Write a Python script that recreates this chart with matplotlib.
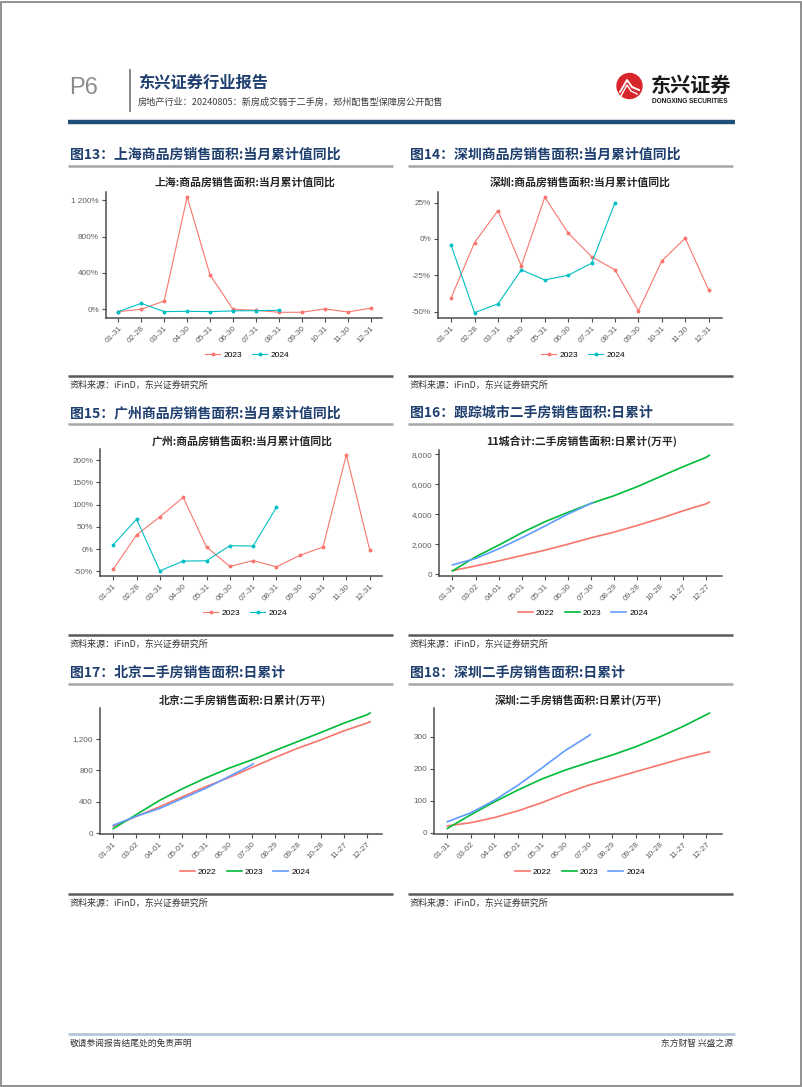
import numpy as np
import matplotlib
matplotlib.use("Agg")
import matplotlib.pyplot as plt
from matplotlib.lines import Line2D
from matplotlib.patches import Rectangle, Circle

plt.rcParams['font.family'] = ['Noto Sans CJK SC', 'DejaVu Sans']

# ================= 数据 =================
months = ['01-31', '02-28', '03-31', '04-30', '05-31', '06-30',
          '07-31', '08-31', '09-30', '10-31', '11-30', '12-31']

# 图13 上海 当月累计值同比 (%)
sh_2023 = [-26, 0, 92, 1237, 378, 0, -11, -33, -33, 4, -29, 11]
sh_2024 = [-26, 66, -26, -22, -26, -18, -15, -11]
# 图14 深圳
sz_2023 = [-40.6, -2.5, 19.5, -18.6, 28.7, 4.1, -12.2, -21.3, -49.5, -15.1, 0.5, -35.1]
sz_2024 = [-4.4, -50.7, -44.7, -21.3, -28.2, -25.0, -16.7, 25.0]
# 图15 广州
gz_2023 = [-45, 31.7, 72.5, 116, 4.5, -39, -26, -40, -14.3, 4.5, 212, -1.5]
gz_2024 = [9.8, 67, -49, -27, -26.4, 7.5, 6.8, 93.6]

# 日累计：以 01-31 为第 0 天
day_ticks = [0, 30, 60, 90, 120, 150, 180, 210, 240, 270, 300, 330]
day_labels = ['01-31', '03-02', '04-01', '05-01', '05-31', '06-30',
              '07-30', '08-29', '09-28', '10-28', '11-27', '12-27']
days_full = [0, 30, 60, 90, 120, 150, 180, 210, 240, 270, 300, 330, 334]
days_2024 = [0, 30, 60, 90, 120, 150, 180, 182]

# 图16 11城合计 (万平)
c11_2022 = [245, 557, 891, 1248, 1604, 2005, 2429, 2808, 3253, 3721, 4234, 4702, 4813]
c11_2023 = [223, 1159, 1939, 2763, 3499, 4123, 4724, 5237, 5838, 6507, 7175, 7799, 7933]
c11_2024 = [624, 1047, 1694, 2429, 3208, 4011, 4724, 4760]
# 图17 北京
bj_2022 = [90, 215, 336, 464, 591, 706, 834, 962, 1081, 1187, 1302, 1400, 1417]
bj_2023 = [60, 238, 417, 566, 702, 826, 932, 1051, 1166, 1281, 1400, 1506, 1528]
bj_2024 = [102, 217, 315, 443, 570, 719, 868, 885]
# 图18 深圳
szd_2022 = [21, 31, 47, 68, 93, 122, 148, 169, 190, 211, 232, 250, 252]
szd_2023 = [13, 56, 96, 133, 167, 195, 219, 242, 268, 298, 331, 368, 373]
szd_2024 = [34, 62, 101, 148, 201, 256, 302, 306]

RED, CYAN = '#F8766D', '#00BFC4'
GREEN, BLUE = '#00BA38', '#619CFF'
NAVY = '#1F3F6E'
TICK_C = '#5E5E5E'

W, H = 802, 1087
fig = plt.figure(figsize=(W / 100, H / 100), dpi=100)


def fx(x):
    return x / W


def fy(y):
    return 1 - y / H


def hline(x0, x1, y, color, lw):
    fig.add_artist(Line2D([fx(x0), fx(x1)], [fy(y), fy(y)], color=color, lw=lw,
                          transform=fig.transFigure, solid_capstyle='butt'))


def make_ax(x0, y0, x1, y1):
    ax = fig.add_axes([fx(x0), fy(y1), (x1 - x0) / W, (y1 - y0) / H])
    for s in ['top', 'right']:
        ax.spines[s].set_visible(False)
    for s in ['left', 'bottom']:
        ax.spines[s].set_color('#4D4D4D')
        ax.spines[s].set_linewidth(1.1)
    ax.tick_params(axis='both', colors='#4D4D4D', length=3, width=0.8,
                   labelsize=5.9, labelcolor=TICK_C, pad=2)
    return ax


def section(x, y, title):
    fig.text(fx(x), fy(y), title, fontsize=10, fontweight='bold', color=NAVY,
             va='center', ha='left')
    hline(x - 2, x + 323, y + 11, '#A6A6A6', 1.8)


def source(x, y):
    hline(x - 2, x + 323, y - 9, '#595959', 1.8)
    fig.text(fx(x), fy(y), '资料来源：iFinD，东兴证券研究所', fontsize=6.5,
             color='#333333', style='italic', va='center', ha='left')


def chart_title(xc, y, t):
    fig.text(fx(xc), fy(y), t, fontsize=7.8, fontweight='bold', color='#262626',
             ha='center', va='center')


def legend(xc, y, handles, labels):
    fig.legend(handles, labels, loc='center', bbox_to_anchor=(fx(xc), fy(y)),
               ncol=len(labels), frameon=False, handlelength=1.8,
               columnspacing=1.2, handletextpad=0.4,
               prop={'family': ['Liberation Sans', 'DejaVu Sans'], 'size': 6})


def set_fonts(ax):
    for lab in ax.get_xticklabels() + ax.get_yticklabels():
        lab.set_family(['Liberation Sans', 'DejaVu Sans'])


def month_chart(rect, xlim, ylim, yticks, ylabels, s23, s24, title_pos, title, leg_pos):
    ax = make_ax(*rect)
    x = np.arange(1, 13)
    ax.plot(x[:len(s23)], s23, color=RED, lw=0.8, marker='o', ms=1.8)
    ax.plot(x[:len(s24)], s24, color=CYAN, lw=0.8, marker='o', ms=1.8)
    ax.set_xlim(*xlim)
    ax.set_ylim(*ylim)
    ax.set_xticks(x)
    ax.set_xticklabels(months, rotation=45, ha='right', rotation_mode='anchor')
    ax.set_yticks(yticks)
    ax.set_yticklabels(ylabels)
    set_fonts(ax)
    chart_title(title_pos[0], title_pos[1], title)
    hs = [Line2D([], [], color=RED, lw=0.8, marker='o', ms=1.8),
          Line2D([], [], color=CYAN, lw=0.8, marker='o', ms=1.8)]
    legend(leg_pos[0], leg_pos[1], hs, ['2023', '2024'])


def day_chart(rect, xlim, ylim, yticks, ylabels, s22, s23, s24, title_pos, title, leg_pos):
    ax = make_ax(*rect)
    ax.plot(days_full, s22, color=RED, lw=1.2)
    ax.plot(days_full, s23, color=GREEN, lw=1.2)
    ax.plot(days_2024, s24, color=BLUE, lw=1.2)
    ax.set_xlim(*xlim)
    ax.set_ylim(*ylim)
    ax.set_xticks(day_ticks)
    ax.set_xticklabels(day_labels, rotation=45, ha='right', rotation_mode='anchor')
    ax.set_yticks(yticks)
    ax.set_yticklabels(ylabels)
    set_fonts(ax)
    chart_title(title_pos[0], title_pos[1], title)
    hs = [Line2D([], [], color=c, lw=1.2) for c in (RED, GREEN, BLUE)]
    legend(leg_pos[0], leg_pos[1], hs, ['2022', '2023', '2024'])


# ================= 页眉 =================
fig.add_artist(Rectangle((0.0015, 0.001), 0.997, 0.997, transform=fig.transFigure,
                         fill=False, edgecolor='#7F7F7F', lw=1.2))
fig.text(fx(69), fy(88), 'P6', fontsize=17, color='#8C8C8C', va='center', ha='left',
         family=['Liberation Sans', 'DejaVu Sans'])
fig.add_artist(Line2D([fx(130), fx(130)], [fy(70), fy(111)], color='#7F7F7F', lw=1.3,
                      transform=fig.transFigure))
fig.text(fx(138), fy(82), '东兴证券行业报告', fontsize=11.7, fontweight='bold',
         color=NAVY, va='center', ha='left')
fig.text(fx(138), fy(102), '房地产行业：20240805：新房成交弱于二手房，郑州配售型保障房公开配售',
         fontsize=6.6, color='#404040', va='center', ha='left')
hline(68, 735, 122, '#1F4E79', 3.2)

# 标志（以英寸为单位，保证圆形）
inch = fig.dpi_scale_trans
fig.add_artist(Circle((629.5 / 100, (H - 86) / 100), 0.125, transform=inch,
                      color='#D7262B'))
fig.add_artist(Line2D([6.20, 6.27, 6.32, 6.39],
                      [(H - 92) / 100, (H - 80) / 100, (H - 87) / 100, (H - 90) / 100],
                      color='white', lw=1.4, transform=inch))
fig.add_artist(Line2D([6.21, 6.27, 6.31, 6.37],
                      [(H - 96) / 100, (H - 85) / 100, (H - 91) / 100, (H - 94) / 100],
                      color='white', lw=1.0, transform=inch))
fig.text(fx(651), fy(85), '东兴证券', fontsize=14.5, fontweight='bold', color='#1A1A1A',
         va='center', ha='left')
fig.text(fx(652), fy(101.5), 'DONGXING SECURITIES', fontsize=4.7, fontweight='bold',
         color='#1A1A1A', va='center', ha='left', family=['Liberation Sans', 'DejaVu Sans'])

# ================= 图表 =================
section(70, 155, '图13：上海商品房销售面积:当月累计值同比')
section(410, 155, '图14：深圳商品房销售面积:当月累计值同比')
source(70, 385)
source(410, 385)
month_chart((106, 192, 382, 318), (0.46, 12.5), (-96, 1291), [0, 400, 800, 1200],
            ['0%', '400%', '800%', '1 200%'], sh_2023, sh_2024,
            (245, 182), '上海:商品房销售面积:当月累计值同比', (247, 355))
month_chart((438, 192, 722, 318), (0.44, 12.57), (-54.4, 32.3), [-50, -25, 0, 25],
            ['-50%', '-25%', '0%', '25%'], sz_2023, sz_2024,
            (580, 182), '深圳:商品房销售面积:当月累计值同比', (583, 355))

section(70, 413, '图15：广州商品房销售面积:当月累计值同比')
section(410, 413, '图16：跟踪城市二手房销售面积:日累计')
source(70, 644)
source(410, 644)
month_chart((100, 449, 382, 576), (0.43, 12.53), (-60.6, 224.8),
            [-50, 0, 50, 100, 150, 200],
            ['-50%', '0%', '50%', '100%', '150%', '200%'], gz_2023, gz_2024,
            (242, 441), '广州:商品房销售面积:当月累计值同比', (245, 613))
day_chart((439, 450, 722, 576), (-17.5, 350.5), (-114, 8287),
          [0, 2000, 4000, 6000, 8000], ['0', '2,000', '4,000', '6,000', '8,000'],
          c11_2022, c11_2023, c11_2024,
          (582, 441), '11城合计:二手房销售面积:日累计(万平)', (583, 613))

section(70, 673, '图17：北京二手房销售面积:日累计')
section(410, 673, '图18：深圳二手房销售面积:日累计')
source(70, 903)
source(410, 903)
day_chart((100, 708, 382, 834), (-17.3, 349.5), (-9, 1592),
          [0, 400, 800, 1200], ['0', '400', '800', '1,200'],
          bj_2022, bj_2023, bj_2024,
          (242, 700), '北京:二手房销售面积:日累计(万平)', (245, 872))
day_chart((434, 708, 722, 834), (-17.1, 350), (-4.4, 389),
          [0, 100, 200, 300], ['0', '100', '200', '300'],
          szd_2022, szd_2023, szd_2024,
          (578, 700), '深圳:二手房销售面积:日累计(万平)', (580, 872))

# ================= 页脚 =================
hline(68, 735, 1034, '#B4C6D6', 2.0)
fig.text(fx(70), fy(1043), '敬请参阅报告结尾处的免责声明', fontsize=6.3, color='#333333',
         va='center', ha='left')
fig.text(fx(733), fy(1043), '东方财智 兴盛之源', fontsize=6.3, color='#333333',
         va='center', ha='right')

fig.savefig('out.png', dpi=100)
